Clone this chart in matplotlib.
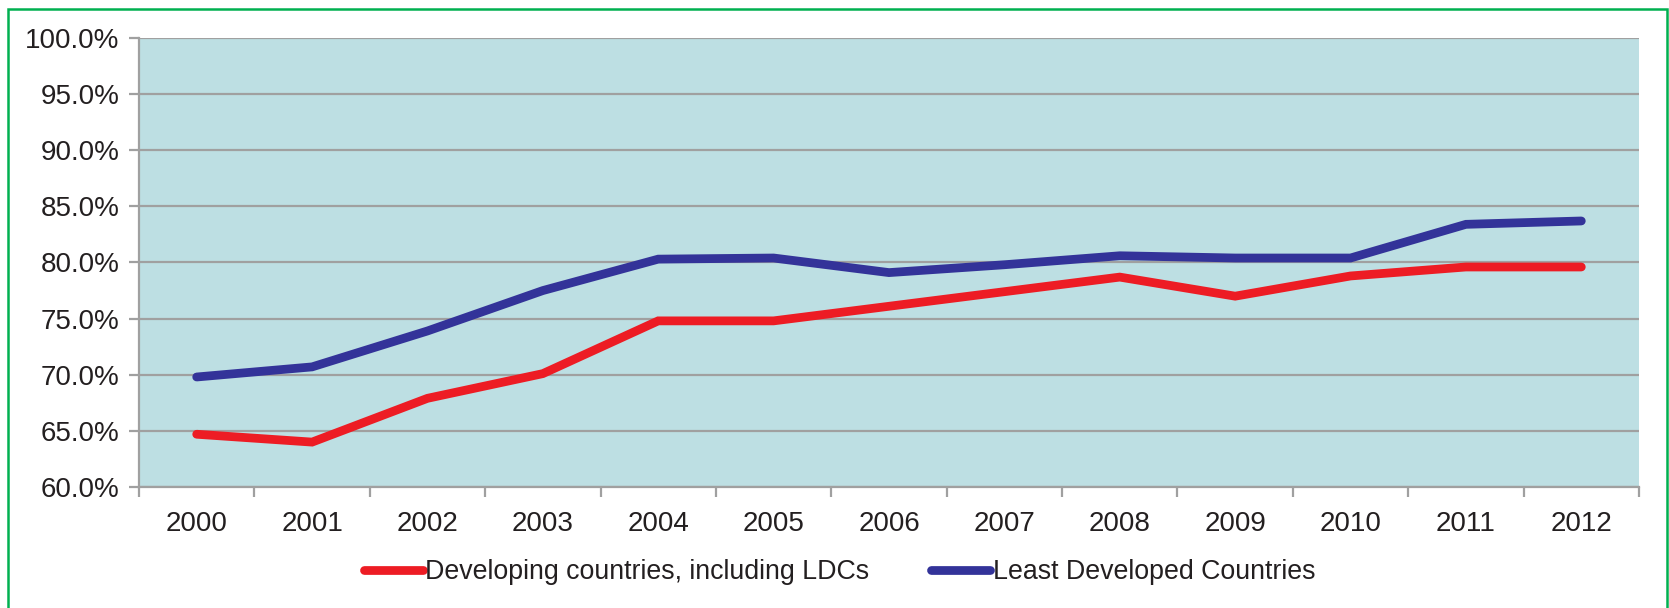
import matplotlib.pyplot as plt
from matplotlib.patches import Rectangle
from matplotlib.ticker import FuncFormatter, MultipleLocator

# data (share, %)
years = ["2000", "2001", "2002", "2003", "2004", "2005", "2006",
         "2007", "2008", "2009", "2010", "2011", "2012"]
developing = [64.7, 64.0, 67.9, 70.1, 74.8, 74.8, 76.1,
              77.4, 78.7, 77.0, 78.8, 79.6, 79.6]
ldc = [69.8, 70.7, 73.9, 77.5, 80.3, 80.4, 79.1,
       79.8, 80.6, 80.4, 80.4, 83.4, 83.7]

RED = "#ED1C24"
BLUE = "#333399"
BG = "#BDDFE3"
GRID = "#A0A0A0"
TXT = "#231F20"

plt.rcParams["font.family"] = ["Liberation Sans", "DejaVu Sans"]

fig = plt.figure(figsize=(16.69, 6.08), dpi=100)
ax = fig.add_axes([139 / 1669, 1 - 487 / 608, 1500 / 1669, 449 / 608])
ax.set_facecolor(BG)

x = list(range(len(years)))
ax.plot(x, developing, color=RED, lw=6.3, solid_capstyle="round",
        solid_joinstyle="miter", label="Developing countries, including LDCs", zorder=3)
ax.plot(x, ldc, color=BLUE, lw=6.3, solid_capstyle="round",
        solid_joinstyle="miter", label="Least Developed Countries", zorder=3)

ax.set_xlim(-0.5, len(years) - 0.5)
ax.set_ylim(60, 100)
ax.yaxis.set_major_locator(MultipleLocator(5))
ax.yaxis.set_major_formatter(FuncFormatter(lambda v, p: f"{v:.1f}%"))
ax.grid(axis="y", color=GRID, lw=1.6, zorder=1)
ax.set_axisbelow(True)

ax.set_xticks(x)
ax.set_xticklabels(years)
ax.set_xticks([i - 0.5 for i in range(len(years) + 1)], minor=True)
ax.tick_params(axis="x", which="major", length=0, pad=17, labelsize=20, colors=TXT)
ax.tick_params(axis="x", which="minor", length=7, width=1.6, color=GRID)
ax.tick_params(axis="y", length=7, width=1.6, color=GRID, pad=7, labelsize=20,
               labelcolor=TXT)

for s in ["top", "right"]:
    ax.spines[s].set_visible(False)
for s in ["left", "bottom"]:
    ax.spines[s].set_color(GRID)
    ax.spines[s].set_linewidth(1.6)

leg = fig.legend(loc="center", bbox_to_anchor=(0.503, 1 - 572 / 608), ncol=2,
                 frameon=False, fontsize=19.3, handlelength=2.2, handletextpad=0.1,
                 columnspacing=2.3)
for t in leg.get_texts():
    t.set_color(TXT)

# green frame around the chart
fig.patches.append(Rectangle((8 / 1669, -0.02), 1659 / 1669, 1.02 - 9 / 608,
                             transform=fig.transFigure, fill=False,
                             edgecolor="#00B050", lw=1.8))

fig.savefig("out.png", dpi=100)
